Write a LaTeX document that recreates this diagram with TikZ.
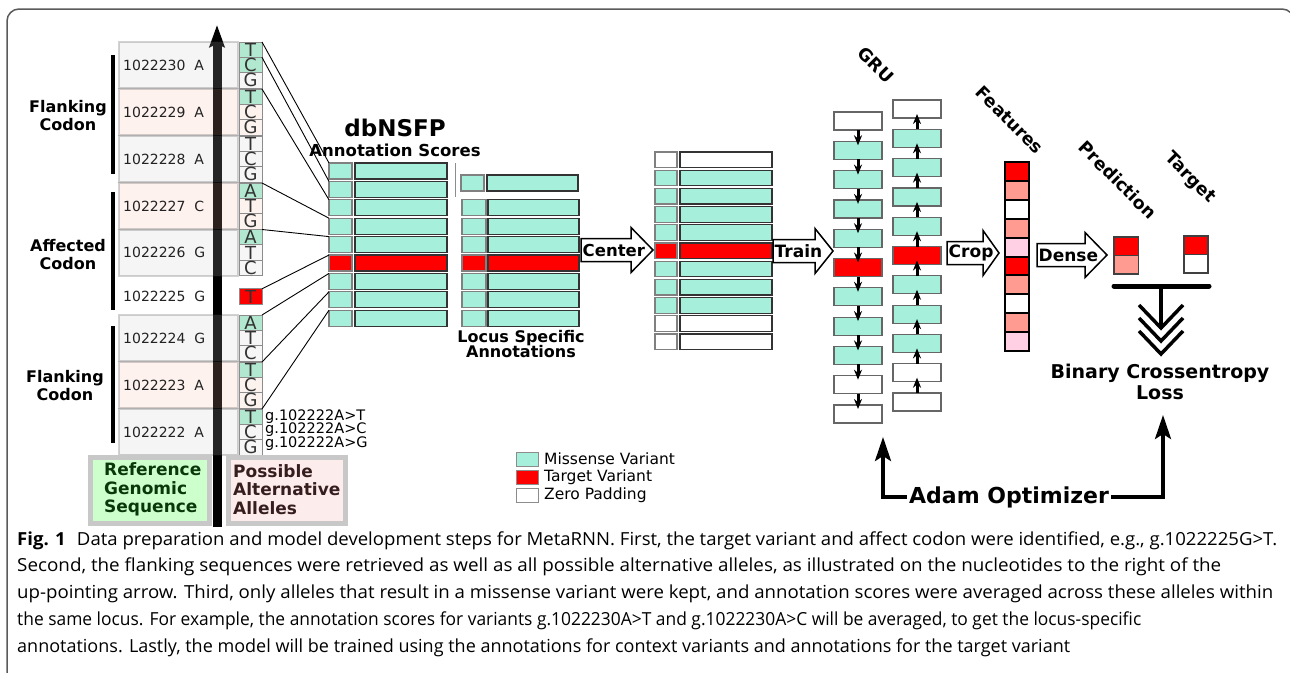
\documentclass[tikz,border=0pt]{standalone}
\usepackage{fontspec}
\usepackage{graphicx}
\setmainfont{DejaVu Sans}
\newfontfamily\capfont{Open Sans}
\usetikzlibrary{arrows.meta}
\definecolor{mint}{RGB}{165,239,219}
\definecolor{amint}{RGB}{178,232,208}
\definecolor{tred}{RGB}{255,0,0}
\definecolor{salmon}{RGB}{255,155,145}
\definecolor{pinkf}{RGB}{255,208,228}
\definecolor{rowgray}{RGB}{246,246,246}
\definecolor{rowpeach}{RGB}{253,243,238}
\definecolor{tgray}{RGB}{205,205,205}
\definecolor{tpeach}{RGB}{244,188,161}
\definecolor{refgreen}{RGB}{204,255,204}
\definecolor{refpink}{RGB}{253,236,236}
\definecolor{refedge}{RGB}{200,200,200}
\definecolor{framegray}{RGB}{90,90,90}
\definecolor{txtgray}{RGB}{34,34,34}
\definecolor{celledge}{RGB}{140,140,140}
\definecolor{reftext}{RGB}{10,55,10}
\definecolor{alttext}{RGB}{55,30,30}
\newcommand\myfs[1]{\fontsize{#1}{#1}\selectfont}
\tikzset{
  rowbox/.style={fill opacity=0.18, draw=black!85, draw opacity=0.2, line width=2pt},
  rowtxt/.style={anchor=west, inner sep=0pt, text=txtgray, font=\myfs{14}},
  allele/.style={draw=celledge, line width=0.8pt, minimum width=23pt, minimum height=15.33pt,
    inner sep=0pt, outer sep=0pt, text=black!80, font=\myfs{18}},
  conn/.style={black, line width=0.9pt},
  sbox/.style={draw=black!50, line width=1.2pt, minimum width=23pt, minimum height=16pt, inner sep=0pt, outer sep=0pt, anchor=north west},
  bbox/.style={draw=black!80, line width=1.2pt, minimum width=92pt, minimum height=16pt, inner sep=0pt, outer sep=0pt, anchor=north west},
  grubox/.style={draw=black!60, line width=1.2pt, minimum width=48pt, minimum height=18pt, inner sep=0pt, outer sep=0pt, anchor=north west},
  featbox/.style={draw=black, line width=2pt, minimum width=24pt, minimum height=18.9pt, inner sep=0pt, outer sep=0pt, anchor=north west},
  outbox/.style={draw=black!75, line width=1.5pt, minimum width=24.5pt, minimum height=18.5pt, inner sep=0pt, outer sep=0pt, anchor=north west},
  gruarr/.style={line width=3pt, -{Stealth[length=10pt,width=8pt]}},
  blockarr/.style={draw=black, line width=1.5pt, fill=white, line join=miter},
  arrtext/.style={anchor=west, inner sep=1.5pt, font=\bfseries\myfs{17}},
  boldlbl/.style={font=\bfseries\fontsize{16}{18}\selectfont, align=center, inner sep=0pt},
  rotlbl/.style={font=\bfseries\myfs{17.5}, rotate=-45, inner sep=0pt},
  adamarr/.style={line width=3.5pt, -{Stealth[length=24pt,width=16pt,inset=5pt]}},
  legbox/.style={draw=black!45, line width=1pt, minimum width=22pt, minimum height=14.5pt, inner sep=0pt, outer sep=0pt, anchor=north west},
  legtxt/.style={anchor=west, inner sep=0pt, font=\myfs{15.5}},
  capline/.style={anchor=base west, inner sep=0pt, font=\capfont\myfs{18}}
}
\newcommand\allelerow[8]{%
  \node[allele, fill=#4] (#1a) at (250.5,#2+7.667) {#3};
  \node[allele, fill=#6] (#1b) at (250.5,#2+23) {#5};
  \node[allele, fill=#8] (#1c) at (250.5,#2+38.333) {#7};}
\newcommand\blockarrow[6]{%
  \draw[blockarr] (#2,#5-11.5) -- (#3,#5-11.5) -- (#3,#5-22.5) -- (#4,#5) -- (#3,#5+22.5) -- (#3,#5+11.5) -- (#2,#5+11.5) -- cycle;
  \node[arrtext] (#1) at (#2,#5) {#6};}
\begin{document}
\begin{tikzpicture}[x=1pt,y=-1pt]
\useasboundingbox (0,0) rectangle (1290,672);
\fill[white] (0,0) rectangle (1290,672);
% frame
\draw[framegray, line width=1.5pt, rounded corners=12pt] (7,690) -- (7,9) -- (1294,9) -- (1294,690);

% ---------- left panel ----------
\coordinate (arrB) at (217,527);
\coordinate (arrT) at (217,25);
\draw[black, line width=9pt, -{Stealth[length=22pt,width=15pt,inset=3pt]}] (arrB) -- (arrT);

\foreach \t/\c in {42/tgray,89/tpeach,136/tgray,183/tpeach,229.5/tgray,315/tgray,362/tpeach,409/tgray}
  \path[rowbox, fill=\c] (119,\t) rectangle (238,\t+46);

\node[rowtxt] (r0) at (123,65) {1022230\ \ A};
\node[rowtxt] (r1) at (123,112) {1022229\ \ A};
\node[rowtxt] (r2) at (123,159) {1022228\ \ A};
\node[rowtxt] (r3) at (123,206) {1022227\ \ C};
\node[rowtxt] (r4) at (123,252.5) {1022226\ \ G};
\node[rowtxt] (r5) at (123,296) {1022225\ \ G};
\node[rowtxt] (r6) at (123,338) {1022224\ \ G};
\node[rowtxt] (r7) at (123,385) {1022223\ \ A};
\node[rowtxt] (r8) at (123,432) {1022222\ \ A};

\allelerow{a0}{42}{T}{amint}{C}{amint}{G}{rowgray}
\allelerow{a1}{89}{T}{amint}{C}{rowpeach}{G}{rowpeach}
\allelerow{a2}{136}{T}{rowgray}{C}{rowgray}{G}{rowgray}
\allelerow{a3}{183}{A}{amint}{T}{rowpeach}{G}{rowpeach}
\allelerow{a4}{229.5}{A}{amint}{T}{rowgray}{C}{rowgray}
\node[allele, fill=tred] (a5a) at (250.5,296.5) {T};
\allelerow{a6}{315}{A}{amint}{T}{rowgray}{C}{rowgray}
\allelerow{a7}{362}{T}{amint}{C}{rowpeach}{G}{rowpeach}
\allelerow{a8}{409}{T}{amint}{C}{rowgray}{G}{rowgray}

\node[anchor=base west, inner sep=0pt, font=\myfs{14.5}] (gT) at (265,420) {g.102222A>T};
\node[anchor=base west, inner sep=0pt, font=\myfs{14.5}] (gC) at (265,433.5) {g.102222A>C};
\node[anchor=base west, inner sep=0pt, font=\myfs{14.5}] (gG) at (265,447) {g.102222A>G};

% codon labels and bars
\node[boldlbl] (fc1) at (68,116) {Flanking\\Codon};
\node[boldlbl] (ac) at (68,255) {Affected\\Codon};
\node[boldlbl] (fc2) at (65,385.5) {Flanking\\Codon};
\draw[line width=4pt] (113,55) -- (113,174);
\draw[line width=4pt] (113,192) -- (113,310);
\draw[line width=4pt] (113,326) -- (113,443);

% legend boxes bottom left
\draw[refedge, line width=5pt, fill=refgreen] (90.5,457.5) rectangle (209.5,523.5);
\node[anchor=west, align=left, inner sep=0pt, text=reftext, font=\bfseries\fontsize{17}{18.5}\selectfont] (refl) at (104,489.5) {Reference\\Genomic\\Sequence};
\draw[refedge, line width=5pt, fill=refpink] (228.5,457.5) rectangle (345.5,523.5);
\node[anchor=west, align=left, inner sep=0pt, text=alttext, font=\bfseries\fontsize{17}{18.5}\selectfont] (altl) at (233,489.5) {Possible\\Alternative\\Alleles};

% ---------- dbNSFP ----------
\node[font=\bfseries\myfs{23}, inner sep=0pt] (dbt) at (395,128) {dbNSFP};
\node[font=\bfseries\myfs{16.5}, inner sep=0pt] (dbs) at (395,150) {Annotation Scores};
\foreach \i/\c in {0/mint,1/mint,2/mint,3/mint,4/mint,5/tred,6/mint,7/mint,8/mint}{
  \node[sbox, fill=\c] (db\i) at (329,163+18.4*\i) {};
  \node[bbox, fill=\c] (dbb\i) at (355,163+18.4*\i) {};
}
\draw[conn] (a0a.north east) -- (db0.north west);
\draw[conn] (a0b.north east) -- (db1.north west);
\draw[conn] (a1a.north east) -- (db2.north west);
\draw[conn] (a3a.north east) -- (db3.north west);
\draw[conn] (a4a.north east) -- (db4.north west);
\draw[conn] (a5a.north east) -- (db5.north west);
\draw[conn] (a6a.north east) -- (db6.north west);
\draw[conn] (a7a.north east) -- (db7.north west);
\draw[conn] (a8a.north east) -- (db8.north west);

% ---------- locus specific ----------
\draw[black!45, line width=1pt] (455,163) -- (455,197);
\node[sbox, fill=mint] (ls) at (461,175) {};
\node[bbox, fill=mint, minimum width=91pt] (lb) at (487,175) {};
\foreach \i/\c in {2/mint,3/mint,4/mint,5/tred,6/mint,7/mint,8/mint}{
  \node[sbox, fill=\c, minimum width=24pt] (ls\i) at (462,163+18.4*\i) {};
  \node[bbox, fill=\c, minimum width=91pt] (lb\i) at (488,163+18.4*\i) {};
}
\node[font=\bfseries\fontsize{16}{15.5}\selectfont, align=center, inner sep=0pt] (lst) at (521,344) {Locus Specific\\Annotations};

% ---------- centered ----------
\blockarrow{ctr}{581}{631}{653}{250}{\myfs{16.5}Center}
\foreach \i/\c in {0/white,1/mint,2/mint,3/mint,4/mint,5/tred,6/mint,7/mint,8/mint,9/white,10/white}{
  \node[sbox, fill=\c, minimum width=22pt, minimum height=15.5pt] (cs\i) at (655,152+18.2*\i) {};
  \node[bbox, fill=\c, minimum height=15.5pt] (cb\i) at (680,152+18.2*\i) {};
}

% ---------- GRU ----------
\blockarrow{trn}{773}{815}{833}{251}{Train}
\node[rotlbl] (grut) at (876,65) {GRU};
\foreach \i/\c in {0/white,1/mint,2/mint,3/mint,4/mint,5/tred,6/mint,7/mint,8/mint,9/white,10/white}{
  \node[grubox, fill=\c] (ga\i) at (834,112+29.3*\i) {};
  \node[grubox, fill=\c] (gb\i) at (893,100+29.3*\i) {};
}
\foreach \i [evaluate=\i as \j using int(\i+1)] in {0,...,9}{
  \draw[gruarr] (ga\i.south) -- ([yshift=-4pt]ga\j.north);
  \draw[gruarr] (gb\j.north) -- ([yshift=4pt]gb\i.south);
}

% ---------- features ----------
\blockarrow{crp}{947}{983}{999}{253}{Crop}
\node[rotlbl] (feat) at (1010,120) {Features};
\foreach \i/\c in {0/tred,1/salmon,2/white,3/salmon,4/pinkf,5/tred,6/salmon,7/white,8/salmon,9/pinkf}
  \node[featbox, fill=\c] (f\i) at (1005,162+18.9*\i) {};

% ---------- prediction / target ----------
\blockarrow{dns}{1037}{1085}{1107}{255}{Dense}
\node[rotlbl] (predt) at (1118,180) {Prediction};
\node[rotlbl] (targt) at (1190,178) {Target};
\node[outbox, fill=tred] (p0) at (1114,237) {};
\node[outbox, fill=salmon] (p1) at (1114,255.5) {};
\node[outbox, fill=tred, minimum width=24pt] (t0) at (1184,236) {};
\node[outbox, fill=white, minimum width=24pt] (t1) at (1184,254.5) {};

\coordinate (barL) at (1114,286);
\coordinate (barR) at (1209,286);
\coordinate (barM) at (1161,286);
\coordinate (chev) at (1161,329);
\draw[line width=5pt, line cap=round] (barL) -- (barR);
\draw[line width=3.5pt] (barM) -- (chev);
\foreach \k in {0,1,2}
  \draw[line width=3.5pt] (1139,305+13*\k) -- (1161,328+13*\k) -- (1183,305+13*\k);

\node[font=\bfseries\fontsize{19}{21}\selectfont, align=center, inner sep=0pt] (loss) at (1160,382) {Binary Crossentropy\\Loss};

\node[font=\bfseries\myfs{22}, anchor=base, inner sep=2pt] (adam) at (1009,503) {Adam Optimizer};
\coordinate (tipL) at (883,437);
\coordinate (tipR) at (1163,415);
\draw[adamarr] (adam.west) -| (tipL);
\draw[adamarr] (adam.east) -| (tipR);

% ---------- legend ----------
\node[legbox, fill=mint] (lg1) at (516,452) {};
\node[legbox, fill=tred] (lg2) at (516,470) {};
\node[legbox, fill=white] (lg3) at (516,488) {};
\node[legtxt] (lt1) at (544,459) {Missense Variant};
\node[legtxt] (lt2) at (544,477) {Target Variant};
\node[legtxt] (lt3) at (544,495.5) {Zero Padding};

% ---------- caption ----------
\node[capline] (c1) at (17,545) {\resizebox{1260pt}{\height}{\textbf{Fig. 1}\hspace{0.6em}Data preparation and model development steps for MetaRNN. First, the target variant and affect codon were identified, e.g., g.1022225G>T.}};
\node[capline] (c2) at (17,571.8) {\resizebox{1204pt}{\height}{Second, the flanking sequences were retrieved as well as all possible alternative alleles, as illustrated on the nucleotides to the right of the}};
\node[capline] (c3) at (17,598.6) {\resizebox{1256pt}{\height}{up-pointing arrow. Third, only alleles that result in a missense variant were kept, and annotation scores were averaged across these alleles within}};
\node[capline] (c4) at (17,625.4) {\resizebox{1124pt}{\height}{the same locus. For example, the annotation scores for variants g.1022230A>T and g.1022230A>C will be averaged, to get the locus-specific}};
\node[capline] (c5) at (17,652.2) {\resizebox{1053pt}{\height}{annotations. Lastly, the model will be trained using the annotations for context variants and annotations for the target variant}};
\end{tikzpicture}
\end{document}
